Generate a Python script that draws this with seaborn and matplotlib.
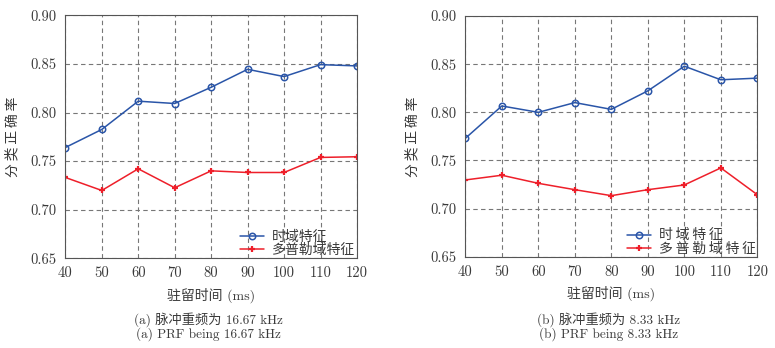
import matplotlib
matplotlib.use("Agg")
import matplotlib.pyplot as plt
import seaborn as sns
import pandas as pd

dwell = [40, 50, 60, 70, 80, 90, 100, 110, 120]
time_a = [0.764, 0.7826, 0.8117, 0.8093, 0.826, 0.8445, 0.837, 0.8493, 0.848]
doppler_a = [0.7332, 0.7198, 0.7421, 0.7226, 0.740, 0.7383, 0.7383, 0.7538, 0.7545]
time_b = [0.773, 0.8066, 0.800, 0.8101, 0.8031, 0.8223, 0.8479, 0.8338, 0.8355]
doppler_b = [0.7298, 0.7347, 0.7263, 0.7197, 0.7135, 0.7197, 0.7246, 0.7423, 0.7145]
yticks = [0.65, 0.70, 0.75, 0.80, 0.85, 0.90]
ytick_labels = ["0.65", "0.70", "0.75", "0.80", "0.85", "0.90"]
xlabel = "驻留时间 (ms)"
ylabel = "分\u2009类\u2009正\u2009确\u2009率"
legend_a = ["时域特征", "多普勒域特征"]
legend_b = ["时\u2009域\u2009特\u2009征", "多\u2009普\u2009勒\u2009域\u2009特\u2009征"]
captions_a = ["(a) 脉冲重频为 16.67 kHz", "(a) PRF being 16.67 kHz"]
captions_b = ["(b) 脉冲重频为 8.33 kHz", "(b) PRF being 8.33 kHz"]

sns.set_style("white")
fams = ["cmr10", "Noto Sans CJK SC", "DejaVu Serif"]
plt.rcParams["font.family"] = fams
plt.rcParams["axes.unicode_minus"] = False
plt.rcParams["axes.formatter.use_mathtext"] = True

BLUE = "#2a55a8"
RED = "#ee1f2a"
TXT = "#3a3a3a"
FS = 9.5

fig = plt.figure(figsize=(7.75, 3.48), dpi=100)
ax_a = fig.add_axes([0.0843, 0.2578, 0.3763, 0.698])
ax_b = fig.add_axes([0.6004, 0.2620, 0.3768, 0.692])


def draw(ax, tvals, dvals, labels):
    df = pd.DataFrame({"x": dwell, "t": tvals, "d": dvals})
    sns.lineplot(data=df, x="x", y="t", ax=ax, color=BLUE, marker="o",
                 markersize=4.6, markerfacecolor="none", markeredgecolor=BLUE,
                 markeredgewidth=1.1, linewidth=1.1, label=labels[0])
    sns.lineplot(data=df, x="x", y="d", ax=ax, color=RED, marker="+",
                 markersize=4.0, markeredgewidth=1.6, markeredgecolor=RED,
                 linewidth=1.1, label=labels[1])
    ax.set_xlim(40, 120)
    ax.set_ylim(0.65, 0.90)
    ax.set_xticks(dwell)
    ax.set_xticklabels([str(v) for v in dwell], fontsize=10.5)
    ax.set_yticks(yticks)
    ax.set_yticklabels(ytick_labels, fontsize=10.5)
    ax.grid(True, linestyle=(0, (4, 3)), color="#777777", linewidth=0.8)
    for s in ax.spines.values():
        s.set_color("#555555")
        s.set_linewidth(0.8)
    ax.tick_params(length=0, pad=6, colors=TXT)
    ax.set_xlabel(xlabel, fontsize=10, color=TXT, labelpad=5)
    ax.set_ylabel(ylabel, fontsize=10, color=TXT, labelpad=8)
    leg = ax.legend(loc="lower right", frameon=False, fontsize=10,
                    handlelength=1.7, handletextpad=0.6, labelspacing=-0.02,
                    borderaxespad=0.05, borderpad=0.05)
    for t in leg.get_texts():
        t.set_color(TXT)


draw(ax_a, time_a, doppler_a, legend_a)
draw(ax_b, time_b, doppler_b, legend_b)

for cx, caps in [(0.269, captions_a), (0.785, captions_b)]:
    fig.text(cx, 0.083, caps[0], ha="center", va="center", fontsize=FS, color=TXT)
    fig.text(cx, 0.040, caps[1], ha="center", va="center", fontsize=FS, color=TXT)

fig.savefig("out.png", dpi=100)
